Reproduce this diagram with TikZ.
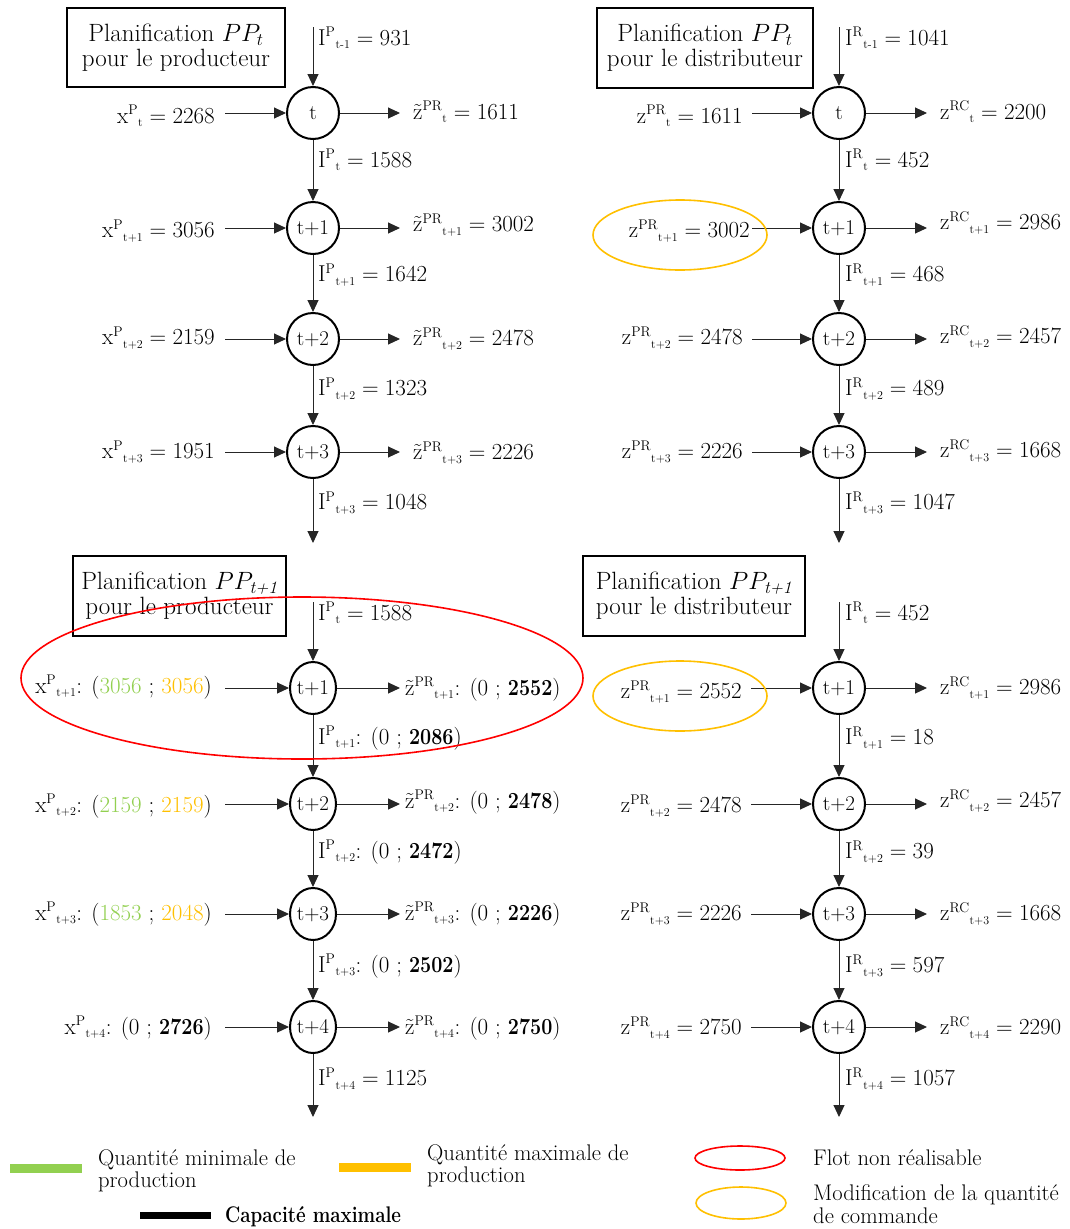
\RequirePackage{fix-cm}
\documentclass[tikz,border=0pt]{standalone}
\usepackage{amsmath}
\usetikzlibrary{arrows.meta,shapes.geometric}
\definecolor{lgreen}{HTML}{92D050}
\definecolor{lorange}{HTML}{FFC000}
\newcommand\VV[3]{\mathrm{#1}^{\text{\fontsize{14}{14}\selectfont #2}}{}_{\text{\fontsize{12}{12}\selectfont #3}}}
\newcommand\ZT{\tilde{\mathrm{z}}}
\newcommand\BD[1]{\scalebox{0.86}[1]{\textbf{#1}}}
\tikzset{
  nd/.style={circle, draw, line width=2pt, minimum size=52pt, inner sep=0pt, font=\fontsize{21}{24}\selectfont},
  ndn/.style={nd, ellipse, minimum width=46pt, minimum height=52pt},
  lbl/.style={font=\fontsize{23}{26}\selectfont, inner sep=0pt},
  arr/.style={-{Triangle[length=12pt,width=11pt]}, line width=1pt, draw=black!85},
  ttl/.style={draw, line width=1.6pt, align=center, inner sep=0pt, font=\fontsize{25}{25}\selectfont},
  leg/.style={font=\fontsize{22.6}{22.5}\selectfont, inner sep=0pt, align=left, anchor=west},
  redell/.style={draw=red, line width=1.6pt},
  orell/.style={draw=lorange, line width=1.6pt}
}
\begin{document}
\begin{tikzpicture}[x=1pt,y=-1pt]
\useasboundingbox[fill=white] (0,0) rectangle (1070,1229);

% ---------------- Column A : top-left ----------------
\node[ttl, minimum width=218pt, minimum height=79pt] (ta) at (176,47.5) {Planification $PP_t$\\pour le producteur};
\foreach \i/\y/\t in {0/113/t,1/228/t+1,2/339/t+2,3/452/t+3}{
  \node[nd] (a\i) at (313,\y) {\t};
  \coordinate (al\i) at (225,\y);
  \coordinate (ar\i) at (400,\y);
  \draw[arr] (al\i) -- (a\i);
  \draw[arr] (a\i) -- (ar\i);
}
\coordinate (ain) at (313,27);
\coordinate (aout) at (313,543);
\draw[arr] (ain) -- (a0);
\draw[arr] (a0) -- (a1);
\draw[arr] (a1) -- (a2);
\draw[arr] (a2) -- (a3);
\draw[arr] (a3) -- (aout);
\node[lbl, anchor=west] (aI0) at (318,38) {$\VV{I}{P}{t-1} = 931$};
\node[lbl, anchor=west] (aI1) at (318,160) {$\VV{I}{P}{t} = 1588$};
\node[lbl, anchor=west] (aI2) at (318,275) {$\VV{I}{P}{t+1} = 1642$};
\node[lbl, anchor=west] (aI3) at (318,389) {$\VV{I}{P}{t+2} = 1323$};
\node[lbl, anchor=west] (aI4) at (318,503) {$\VV{I}{P}{t+3} = 1048$};
\node[lbl, anchor=east] (ax0) at (215,116) {$\VV{x}{P}{t} = 2268$};
\node[lbl, anchor=east] (ax1) at (215,231) {$\VV{x}{P}{t+1} = 3056$};
\node[lbl, anchor=east] (ax2) at (215,338) {$\VV{x}{P}{t+2} = 2159$};
\node[lbl, anchor=east] (ax3) at (215,452) {$\VV{x}{P}{t+3} = 1951$};
\node[lbl, anchor=west] (az0) at (413,112) {$\VV{\ZT}{PR}{t} = 1611$};
\node[lbl, anchor=west] (az1) at (413,225) {$\VV{\ZT}{PR}{t+1} = 3002$};
\node[lbl, anchor=west] (az2) at (413,339) {$\VV{\ZT}{PR}{t+2} = 2478$};
\node[lbl, anchor=west] (az3) at (413,453) {$\VV{\ZT}{PR}{t+3} = 2226$};

% ---------------- Column B : top-right ----------------
\node[ttl, minimum width=216pt, minimum height=80pt] (tb) at (705,48) {Planification $PP_t$\\pour le distributeur};
\foreach \i/\y/\t in {0/113/t,1/228/t+1,2/339/t+2,3/452/t+3}{
  \node[nd] (b\i) at (839,\y) {\t};
  \coordinate (bl\i) at (752,\y);
  \coordinate (br\i) at (927,\y);
  \draw[arr] (bl\i) -- (b\i);
  \draw[arr] (b\i) -- (br\i);
}
\coordinate (bin) at (839,27);
\coordinate (bout) at (839,543);
\draw[arr] (bin) -- (b0);
\draw[arr] (b0) -- (b1);
\draw[arr] (b1) -- (b2);
\draw[arr] (b2) -- (b3);
\draw[arr] (b3) -- (bout);
\node[lbl, anchor=west] (bI0) at (845,38) {$\VV{I}{R}{t-1} = 1041$};
\node[lbl, anchor=west] (bI1) at (845,160) {$\VV{I}{R}{t} = 452$};
\node[lbl, anchor=west] (bI2) at (845,275) {$\VV{I}{R}{t+1} = 468$};
\node[lbl, anchor=west] (bI3) at (845,389) {$\VV{I}{R}{t+2} = 489$};
\node[lbl, anchor=west] (bI4) at (845,503) {$\VV{I}{R}{t+3} = 1047$};
\node[lbl, anchor=east] (bx0) at (743,116) {$\VV{z}{PR}{t} = 1611$};
\node[lbl, anchor=east] (bx1) at (750,231) {$\VV{z}{PR}{t+1} = 3002$};
\node[lbl, anchor=east] (bx2) at (743,338) {$\VV{z}{PR}{t+2} = 2478$};
\node[lbl, anchor=east] (bx3) at (743,452) {$\VV{z}{PR}{t+3} = 2226$};
\node[lbl, anchor=west] (bz0) at (940,112) {$\VV{z}{RC}{t} = 2200$};
\node[lbl, anchor=west] (bz1) at (940,223) {$\VV{z}{RC}{t+1} = 2986$};
\node[lbl, anchor=west] (bz2) at (940,337) {$\VV{z}{RC}{t+2} = 2457$};
\node[lbl, anchor=west] (bz3) at (940,451) {$\VV{z}{RC}{t+3} = 1668$};
\draw[orell] (680,235) ellipse [x radius=87pt, y radius=35pt];

% ---------------- Column C : bottom-left ----------------
\node[ttl, minimum width=213pt, minimum height=80pt] (tc) at (179.5,596) {Planification $PP_{\textit{t+1}}$\\pour le producteur};
\foreach \i/\y/\t in {1/688/t+1,2/804/t+2,3/914/t+3,4/1027/t+4}{
  \node[ndn] (c\i) at (313,\y) {\t};
  \coordinate (cl\i) at (225,\y);
  \coordinate (cr\i) at (400,\y);
  \draw[arr] (cl\i) -- (c\i);
  \draw[arr] (c\i) -- (cr\i);
}
\coordinate (cin) at (313,602);
\coordinate (cout) at (313,1117);
\draw[arr] (cin) -- (c1);
\draw[arr] (c1) -- (c2);
\draw[arr] (c2) -- (c3);
\draw[arr] (c3) -- (c4);
\draw[arr] (c4) -- (cout);
\node[lbl, anchor=west] (cI0) at (318,613) {$\VV{I}{P}{t} = 1588$};
\node[lbl, anchor=west] (cI1) at (318,738) {$\VV{I}{P}{t+1}$: (0 ; \BD{2086})};
\node[lbl, anchor=west] (cI2) at (318,852) {$\VV{I}{P}{t+2}$: (0 ; \BD{2472})};
\node[lbl, anchor=west] (cI3) at (318,966) {$\VV{I}{P}{t+3}$: (0 ; \BD{2502})};
\node[lbl, anchor=west] (cI4) at (318,1079) {$\VV{I}{P}{t+4} = 1125$};
\node[lbl, anchor=east] (cx1) at (212,687) {$\VV{x}{P}{t+1}$: (\textcolor{lgreen}{3056} ; \textcolor{lorange}{3056})};
\node[lbl, anchor=east] (cx2) at (212,806) {$\VV{x}{P}{t+2}$: (\textcolor{lgreen}{2159} ; \textcolor{lorange}{2159})};
\node[lbl, anchor=east] (cx3) at (212,914) {$\VV{x}{P}{t+3}$: (\textcolor{lgreen}{1853} ; \textcolor{lorange}{2048})};
\node[lbl, anchor=east] (cx4) at (212,1028) {$\VV{x}{P}{t+4}$: (0 ; \BD{2726})};
\node[lbl, anchor=west] (cz1) at (405,689) {$\VV{\ZT}{PR}{t+1}$: (0 ; \BD{2552})};
\node[lbl, anchor=west] (cz2) at (405,802) {$\VV{\ZT}{PR}{t+2}$: (0 ; \BD{2478})};
\node[lbl, anchor=west] (cz3) at (405,914) {$\VV{\ZT}{PR}{t+3}$: (0 ; \BD{2226})};
\node[lbl, anchor=west] (cz4) at (405,1028) {$\VV{\ZT}{PR}{t+4}$: (0 ; \BD{2750})};
\draw[redell] (302,678) ellipse [x radius=281pt, y radius=81pt];

% ---------------- Column D : bottom-right ----------------
\node[ttl, minimum width=222pt, minimum height=80pt] (td) at (694,596) {Planification $PP_{\textit{t+1}}$\\pour le distributeur};
\foreach \i/\y/\t in {1/688/t+1,2/804/t+2,3/914/t+3,4/1027/t+4}{
  \node[nd] (d\i) at (839,\y) {\t};
  \coordinate (dl\i) at (751,\y);
  \coordinate (dr\i) at (927,\y);
  \draw[arr] (dl\i) -- (d\i);
  \draw[arr] (d\i) -- (dr\i);
}
\coordinate (din) at (839,602);
\coordinate (dout) at (839,1117);
\draw[arr] (din) -- (d1);
\draw[arr] (d1) -- (d2);
\draw[arr] (d2) -- (d3);
\draw[arr] (d3) -- (d4);
\draw[arr] (d4) -- (dout);
\node[lbl, anchor=west] (dI0) at (845,613) {$\VV{I}{R}{t} = 452$};
\node[lbl, anchor=west] (dI1) at (845,738) {$\VV{I}{R}{t+1} = 18$};
\node[lbl, anchor=west] (dI2) at (845,852) {$\VV{I}{R}{t+2} = 39$};
\node[lbl, anchor=west] (dI3) at (845,966) {$\VV{I}{R}{t+3} = 597$};
\node[lbl, anchor=west] (dI4) at (845,1079) {$\VV{I}{R}{t+4} = 1057$};
\node[lbl, anchor=east] (dx1) at (742,692) {$\VV{z}{PR}{t+1} = 2552$};
\node[lbl, anchor=east] (dx2) at (742,806) {$\VV{z}{PR}{t+2} = 2478$};
\node[lbl, anchor=east] (dx3) at (742,914) {$\VV{z}{PR}{t+3} = 2226$};
\node[lbl, anchor=east] (dx4) at (742,1028) {$\VV{z}{PR}{t+4} = 2750$};
\node[lbl, anchor=west] (dz1) at (940,688) {$\VV{z}{RC}{t+1} = 2986$};
\node[lbl, anchor=west] (dz2) at (940,801) {$\VV{z}{RC}{t+2} = 2457$};
\node[lbl, anchor=west] (dz3) at (940,914) {$\VV{z}{RC}{t+3} = 1668$};
\node[lbl, anchor=west] (dz4) at (940,1028) {$\VV{z}{RC}{t+4} = 2290$};
\draw[orell] (680,696) ellipse [x radius=87pt, y radius=35pt];

% ---------------- Legend ----------------
\draw[lgreen, line width=9pt] (10,1168) -- (82,1168);
\node[leg] (lg1) at (98,1171) {Quantité minimale de\\production};
\draw[lorange, line width=9pt] (339,1167) -- (411,1167);
\node[leg] (lg2) at (427,1166) {Quantité maximale de\\production};
\draw[black, line width=7pt] (140,1215.5) -- (211,1215.5);
\node[leg] (lg3) at (225,1217) {\scalebox{0.83}[1]{\textbf{Capacité maximale}}};
\draw[redell] (740,1158) ellipse [x radius=45pt, y radius=12pt];
\node[leg] (lg4) at (813,1158) {Flot non réalisable};
\draw[orell] (741,1203) ellipse [x radius=45pt, y radius=16pt];
\node[leg] (lg5) at (813,1204) {Modification de la quantité\\de commande};
\end{tikzpicture}
\end{document}
